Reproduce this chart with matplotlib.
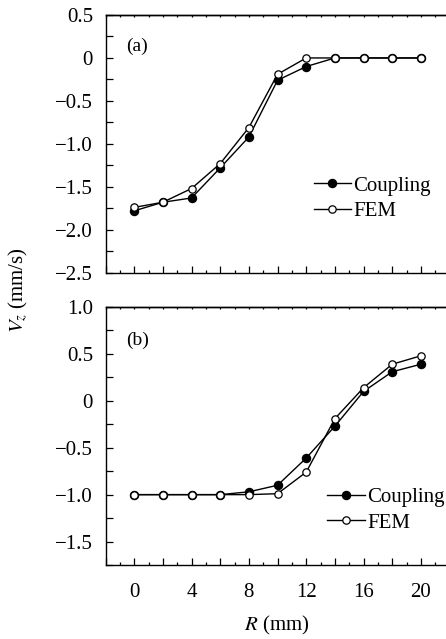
import matplotlib
matplotlib.use("Agg")
import matplotlib.pyplot as plt
from matplotlib.ticker import MultipleLocator, FuncFormatter

plt.rcParams['font.family'] = ['Liberation Serif', 'DejaVu Serif']
plt.rcParams['mathtext.fontset'] = 'stix'

R = [0, 2, 4, 6, 8, 10, 12, 14, 16, 18, 20]
a_coupling = [-1.78, -1.68, -1.63, -1.28, -0.92, -0.26, -0.10, 0.0, 0.0, 0.0, 0.0]
a_fem = [-1.74, -1.68, -1.52, -1.23, -0.81, -0.19, 0.0, 0.0, 0.0, 0.0, 0.0]
b_coupling = [-1.0, -1.0, -1.0, -1.0, -0.97, -0.90, -0.61, -0.27, 0.10, 0.31, 0.39]
b_fem = [-1.0, -1.0, -1.0, -1.0, -1.0, -0.99, -0.76, -0.19, 0.14, 0.39, 0.48]

x_ticks_labeled = [0, 4, 8, 12, 16, 20]

W, H = 446, 639
fig = plt.figure(figsize=(W / 100, H / 100), dpi=100)

left = 105.5 / W
width = (449.6 - 105.5) / W
ax1 = fig.add_axes([left, 1 - 272.7 / H, width, (272.7 - 15) / H])
ax2 = fig.add_axes([left, 1 - 565 / H, width, (565 - 307) / H])

fs = 15

def style(ax, ylim, ymaj, show_xlabels):
    ax.set_xlim(-2, 22)
    ax.set_ylim(*ylim)
    ax.xaxis.set_major_locator(MultipleLocator(2))
    ax.xaxis.set_minor_locator(MultipleLocator(1))
    ax.yaxis.set_major_locator(MultipleLocator(ymaj))
    ax.yaxis.set_minor_locator(MultipleLocator(ymaj / 2))
    ax.tick_params(axis='both', which='both', direction='in', labelsize=fs,
                   width=0.9, right=False, top=False)
    ax.tick_params(axis='y', which='major', length=5, pad=9)
    ax.tick_params(axis='y', which='minor', length=5)
    ax.tick_params(axis='x', which='major', length=5, pad=13)
    ax.tick_params(axis='x', which='minor', length=2.5)
    for s in ax.spines.values():
        s.set_linewidth(1.0)

    def yfmt(v, pos):
        if abs(v) < 1e-9:
            return '0'
        s = '%.1f' % v
        return s.replace('-', '\u2212')
    ax.yaxis.set_major_formatter(FuncFormatter(yfmt))

    def xfmt(v, pos):
        iv = int(round(v))
        if show_xlabels and iv in x_ticks_labeled:
            return str(iv)
        return ''
    ax.xaxis.set_major_formatter(FuncFormatter(xfmt))

    sec = ax.secondary_xaxis('top')
    sec.xaxis.set_major_locator(MultipleLocator(1))
    sec.tick_params(direction='in', length=1.5, width=0.9, labeltop=False)
    sec.set_xticklabels([])
    sec.spines['top'].set_linewidth(1.0)

style(ax1, (-2.5, 0.5), 0.5, False)
style(ax2, (-1.75, 1.0), 0.5, True)

lw = 1.0
ms = 5.8
for ax, c, f, anchor in [(ax1, a_coupling, a_fem, (0.605, 0.375)),
                         (ax2, b_coupling, b_fem, (0.645, 0.30))]:
    ax.plot(R, c, '-', color='black', lw=lw, marker='o', ms=ms,
            mfc='black', mec='black', label='Coupling', zorder=3)
    ax.plot(R, f, '-', color='black', lw=lw, marker='o', ms=ms - 0.5,
            mfc='white', mec='black', mew=0.9, label='FEM', zorder=4)
    leg = ax.legend(loc='upper left', bbox_to_anchor=anchor, frameon=False,
                    fontsize=fs, handlelength=1.8, handletextpad=0.1,
                    borderpad=0, borderaxespad=0, labelspacing=0.28)

ax1.text(0.06, 0.88, '(a)', transform=ax1.transAxes, fontsize=fs - 1,
         va='center', ha='left')
ax2.text(0.06, 0.87, '(b)', transform=ax2.transAxes, fontsize=fs - 1,
         va='center', ha='left')

fig.text(18 / W, 1 - 290 / H, r'$V_z$ (mm/s)', rotation=90, fontsize=fs,
         ha='center', va='center')
fig.text(277 / W, 1 - 625 / H, r'$R$ (mm)', fontsize=fs,
         ha='center', va='center')

fig.savefig('out.png', dpi=100)
